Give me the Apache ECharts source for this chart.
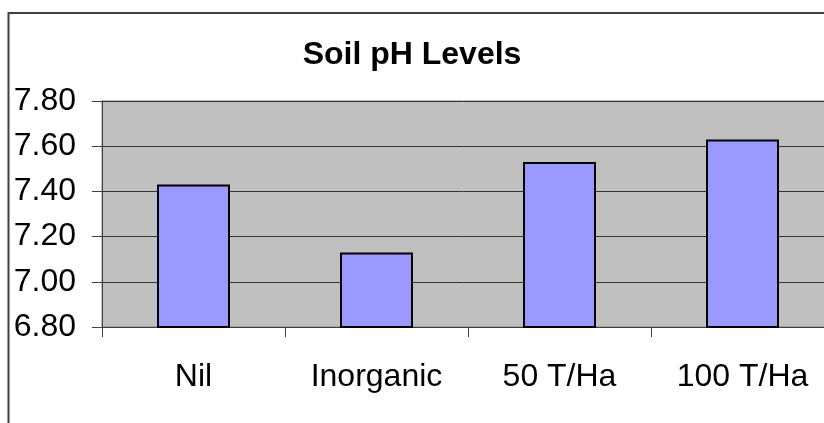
<!DOCTYPE html>
<html>
<head>
<meta charset="utf-8">
<script src="https://cdn.jsdelivr.net/npm/echarts@6/dist/echarts.min.js"></script>
<style>
  html, body { margin: 0; padding: 0; background: #fff; }
  #chart { width: 824px; height: 423px; }
</style>
</head>
<body>
<div id="chart"></div>
<script>
const categories = ['Nil', 'Inorganic', '50 T/Ha', '100 T/Ha'];
const phValues = [7.43, 7.13, 7.53, 7.63];
const titleText = 'Soil pH Levels';

const chart = echarts.init(document.getElementById('chart'));
const font = '"Liberation Sans", Arial, sans-serif';

chart.setOption({
  animation: false,
  backgroundColor: '#fff',
  title: {
    text: titleText,
    left: 'center',
    top: 34,
    textStyle: { fontFamily: font, fontSize: 32, fontWeight: 'bold', color: '#000' }
  },
  graphic: [{
    type: 'rect',
    shape: { x: 8.5, y: 13, width: 900, height: 500 },
    style: { fill: 'none', stroke: '#404040', lineWidth: 2 },
    z: 100
  }],
  grid: {
    left: 102,
    width: 732,
    top: 101,
    bottom: 96,
    outerBoundsMode: 'none',
    containLabel: false,
    show: true,
    backgroundColor: '#C0C0C0',
    borderColor: '#808080',
    borderWidth: 1
  },
  xAxis: {
    type: 'category',
    data: categories,
    axisLine: { lineStyle: { color: '#404040', width: 1 } },
    axisTick: { show: true, length: 10, alignWithLabel: false, lineStyle: { color: '#404040' } },
    axisLabel: { margin: 34, fontFamily: font, fontSize: 32, color: '#000' }
  },
  yAxis: {
    type: 'value',
    min: 6.8,
    max: 7.8,
    interval: 0.2,
    axisLine: { show: true, lineStyle: { color: '#404040', width: 1 } },
    axisTick: { show: true, length: 10, lineStyle: { color: '#404040' } },
    axisLabel: {
      margin: 26,
      fontFamily: font,
      fontSize: 32,
      color: '#000',
      formatter: v => v.toFixed(2)
    },
    splitLine: { show: true, lineStyle: { color: '#333', width: 1 } }
  },
  series: [{
    type: 'bar',
    data: phValues,
    barWidth: 73,
    itemStyle: { color: '#9999FF', borderColor: '#000', borderWidth: 2 }
  }]
});
</script>
</body>
</html>
